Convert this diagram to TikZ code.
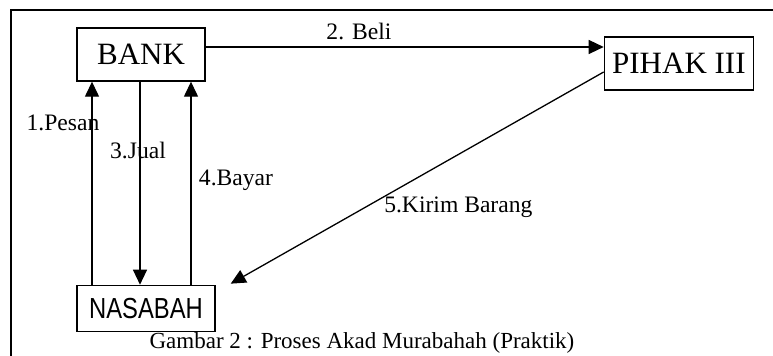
\documentclass[tikz,border=0pt]{standalone}
\usepackage{graphicx}
\usepackage{fontspec}
\setmainfont{Liberation Serif}
\setsansfont{Liberation Sans}
\usetikzlibrary{arrows.meta}
\usetikzlibrary{positioning}

\begin{document}
\begin{tikzpicture}[->,>={Triangle[length=7.5pt,width=7pt]},x=0.5pt,y=-0.5pt,
    line width=0.65pt]
\tikzstyle{box}=[draw, line width=0.7pt, inner sep=0pt]
\tikzstyle{lbl}=[font=\fontsize{11.8}{14}\selectfont, inner sep=0pt]

\useasboundingbox (0,0) rectangle (773,356);
\draw[-,line width=1pt] (11,356) -- (11,10) -- (773,10);

\node[box, minimum width=64pt, minimum height=26.5pt,
      font=\fontsize{15.5}{18}\selectfont]      (bank) at (141,54.5)  {BANK};
\node[box, minimum width=74.5pt, minimum height=26.5pt,
      font=\fontsize{15.5}{18}\selectfont]      (pihak) [right=199pt of bank, yshift=-4.5pt] {PIHAK III};
\node[box, minimum width=69pt, minimum height=23pt,
      font=\sffamily\fontsize{14.5}{17}\selectfont] (nasabah) [below=101.5pt of bank, xshift=2.5pt] {\scalebox{0.82}[1]{NASABAH}};

\node[font=\fontsize{11.5}{14}\selectfont, inner sep=0pt, anchor=base] (caption) at (362,349)
      {Gambar 2 : Proses Akad Murabahah (Praktik)};

% titik ujung garis
\coordinate (b1) at ([yshift=3.75pt]bank.east);
\coordinate (p1) at ([xshift=-24.5pt]bank.south);
\coordinate (j1) at ([xshift=-0.5pt]bank.south);
\coordinate (y1) at ([xshift=25pt]bank.south);
\coordinate (k1) at ([yshift=-4.25pt]pihak.west);
\coordinate (k2) at ([xshift=7.5pt,yshift=0.5pt]nasabah.north east);

\path   (b1)              edge node[lbl, pos=0.385, anchor=base, yshift=3.5pt]   {2. Beli}        (b1 -| pihak.west)
        (p1 |- nasabah.north) edge node[lbl, pos=0.76, anchor=base, xshift=-14.5pt] {1.Pesan}     (p1)
        (j1)              edge node[lbl, pos=0.38, anchor=base, xshift=-1pt]     {3.Jual}         (j1 |- nasabah.north)
        (y1 |- nasabah.north) edge node[lbl, pos=0.49, anchor=base, xshift=22.5pt] {4.Bayar}      (y1)
        (k1)              edge node[lbl, pos=0.59, anchor=base west, yshift=-8pt] {5.Kirim Barang} (k2);

\end{tikzpicture}
\end{document}
